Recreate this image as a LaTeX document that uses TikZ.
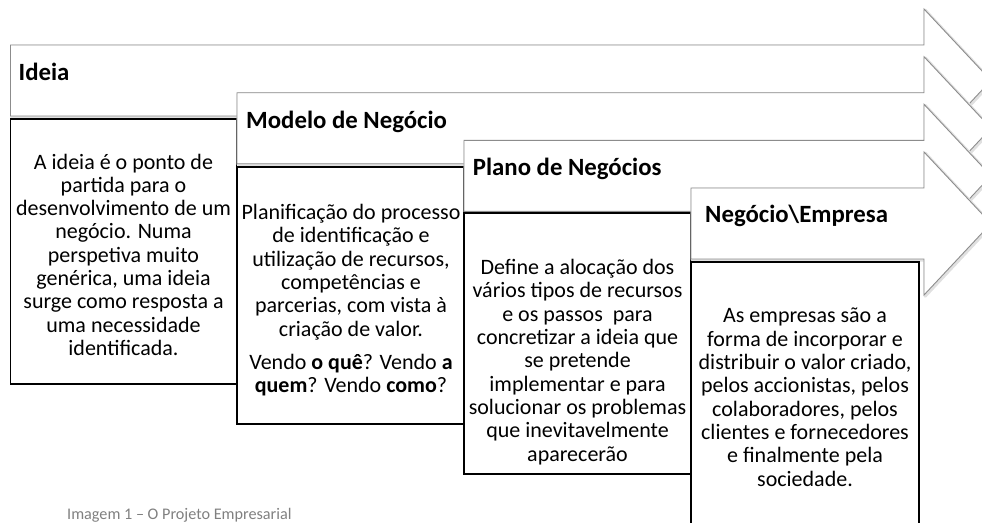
\documentclass[tikz,border=0pt]{standalone}
\usepackage{fontspec}
\setmainfont{Carlito}
\tikzset{
  stage/.style={draw=black!45,line width=0.9pt,fill=white},
  stageshadow/.style={draw=black!12,line width=3pt,line join=round},
  textbox/.style={draw=black,line width=1.6pt,fill=white},
  title/.style={anchor=base west,inner sep=0pt,
    font=\fontsize{24.8}{28}\selectfont\bfseries},
  body/.style={anchor=base,inner sep=0pt,align=flush center,text width=226pt,
    font=\fontsize{22}{23.33}\selectfont},
}
% one stage arrow: left x, top y (head base at 924, tip at 991)
\newcommand*{\stagearrow}[2]
  {\draw[stageshadow,shift={(1.2,1.2)}] (#1,#2) -- (924,#2) -- (924,{#2-36})
     -- (991,{#2+35.5}) -- (924,{#2+107}) -- (924,{#2+71}) -- (#1,{#2+71}) -- cycle;
   \draw[stage] (#1,#2) -- (924,#2) -- (924,{#2-36})
     -- (991,{#2+35.5}) -- (924,{#2+107}) -- (924,{#2+71}) -- (#1,{#2+71}) -- cycle}

\begin{document}
\begin{tikzpicture}[x=1pt,y=-1pt]
\useasboundingbox (0,0) rectangle (982,522);
\clip (0,0) rectangle (982,522);

% Stages and their boxes
\stagearrow{10.5}{45};
\draw[textbox] (10.5,119) rectangle (236.5,384);
\stagearrow{237}{92.7};
\draw[textbox] (237,167) rectangle (464,424);
\stagearrow{464}{140.3};
\draw[textbox] (464,213) rectangle (691,474);
\stagearrow{691}{188};
\draw[textbox] (691,262) rectangle (919,540);

% Titles
\node[title] (ideia) at (18.5,80) {Ideia};
\node[title] (modelo) at (246,128.3) {Modelo de Negócio};
\node[title] (plano) at (472.7,175.5) {Plano de Negócios};
\node[title] (negocio) at (705,222.7) {Negócio\textbackslash Empresa};

% Texts
\node[body] (ideiatxt) at (123.5,169) {A ideia é o ponto de\\ partida para o\\
  desenvolvimento de um\\ negócio. Numa\\ perspetiva muito\\
  genérica, uma ideia\\ surge como resposta a\\ uma necessidade\\ identificada.};
\node[body] (modelotxt) at (351,219.5) {Planificação do processo\\
  de identificação e\\ utilização de recursos,\\ competências e\\
  parcerias, com vista à\\ criação de valor.\\[10pt]
  Vendo \textbf{o quê}? Vendo \textbf{a}\\ \textbf{quem}? Vendo \textbf{como}?};
\node[body] (planotxt) at (577.5,274.5) {Define a alocação dos\\
  vários tipos de recursos\\ e os passos~ para\\ concretizar a ideia que\\
  se pretende\\ implementar e para\\ solucionar os problemas\\
  que inevitavelmente\\ aparecerão};
\node[body] (negociotxt) at (805,322.7) {As empresas são a\\
  forma de incorporar e\\ distribuir o valor criado,\\ pelos accionistas, pelos\\
  colaboradores, pelos\\ clientes e fornecedores\\ e finalmente pela\\ sociedade.};

\node[anchor=base west,inner sep=0pt,text=black!50,font=\fontsize{16.2}{19}\selectfont]
  (legenda) at (67,519) {Imagem 1 – O Projeto Empresarial};
\end{tikzpicture}
\end{document}
